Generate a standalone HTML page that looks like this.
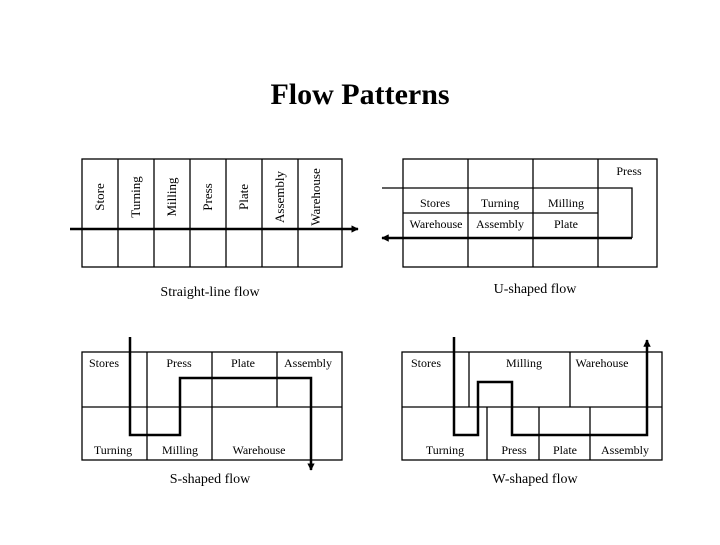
<!DOCTYPE html>
<html><head><meta charset="utf-8"><style>
html,body{margin:0;padding:0;background:#fff;}
svg text{font-family:"Liberation Serif",serif;fill:#000;}
</style></head><body>
<svg width="720" height="540" viewBox="0 0 720 540" xmlns="http://www.w3.org/2000/svg">
<defs>
<marker id="ah" viewBox="0 0 10 10" refX="9" refY="5" markerWidth="3" markerHeight="3" orient="auto"><path d="M0,0 L10,5 L0,10 z" fill="#000"/></marker>
</defs>
<text x="360" y="104" font-size="30" font-weight="bold" text-anchor="middle">Flow Patterns</text>

<!-- Straight-line -->
<g stroke="#000" stroke-width="1.3" fill="none">
<rect x="82" y="159" width="260" height="108"/>
<line x1="118" y1="159" x2="118" y2="267"/><line x1="154" y1="159" x2="154" y2="267"/>
<line x1="190" y1="159" x2="190" y2="267"/><line x1="226" y1="159" x2="226" y2="267"/>
<line x1="262" y1="159" x2="262" y2="267"/><line x1="298" y1="159" x2="298" y2="267"/>
</g>
<line x1="70" y1="229" x2="358" y2="229" stroke="#000" stroke-width="2.5" marker-end="url(#ah)"/>
<g font-size="13" text-anchor="middle">
<text transform="translate(104,197) rotate(-90)">Store</text>
<text transform="translate(140,197) rotate(-90)">Turning</text>
<text transform="translate(176,197) rotate(-90)">Milling</text>
<text transform="translate(212,197) rotate(-90)">Press</text>
<text transform="translate(248,197) rotate(-90)">Plate</text>
<text transform="translate(284,197) rotate(-90)">Assembly</text>
<text transform="translate(320,197) rotate(-90)">Warehouse</text>
</g>
<text x="210" y="296" font-size="14" text-anchor="middle">Straight-line flow</text>

<!-- U-shaped -->
<g stroke="#000" stroke-width="1.3" fill="none">
<rect x="403" y="159" width="254" height="108"/>
<line x1="468" y1="159" x2="468" y2="267"/><line x1="533" y1="159" x2="533" y2="267"/>
<line x1="598" y1="159" x2="598" y2="267"/>
<line x1="403" y1="213" x2="598" y2="213"/>
<polyline points="382,188 632,188 632,238"/>
</g>
<polyline points="632,238 382,238" fill="none" stroke="#000" stroke-width="2.5" marker-end="url(#ah)"/>
<g font-size="12" text-anchor="middle">
<text x="435" y="207">Stores</text><text x="500" y="207">Turning</text><text x="566" y="207">Milling</text>
<text x="436" y="228">Warehouse</text><text x="500" y="228">Assembly</text><text x="566" y="228">Plate</text>
<text x="629" y="175">Press</text>
</g>
<text x="535" y="293" font-size="14" text-anchor="middle">U-shaped flow</text>

<!-- S-shaped -->
<g stroke="#000" stroke-width="1.3" fill="none">
<rect x="82" y="352" width="260" height="108"/>
<line x1="82" y1="407" x2="342" y2="407"/>
<line x1="147" y1="352" x2="147" y2="460"/><line x1="212" y1="352" x2="212" y2="460"/>
<line x1="277" y1="352" x2="277" y2="407"/>
</g>
<polyline points="130,337 130,435 180,435 180,378 311,378 311,470" fill="none" stroke="#000" stroke-width="2.5" marker-end="url(#ah)"/>
<g font-size="12" text-anchor="middle">
<text x="104" y="367">Stores</text><text x="179" y="367">Press</text><text x="243" y="367">Plate</text><text x="308" y="367">Assembly</text>
<text x="113" y="454">Turning</text><text x="180" y="454">Milling</text><text x="259" y="454">Warehouse</text>
</g>
<text x="210" y="483" font-size="14" text-anchor="middle">S-shaped flow</text>

<!-- W-shaped -->
<g stroke="#000" stroke-width="1.3" fill="none">
<rect x="402" y="352" width="260" height="108"/>
<line x1="402" y1="407" x2="662" y2="407"/>
<line x1="469" y1="352" x2="469" y2="407"/><line x1="570" y1="352" x2="570" y2="407"/>
<line x1="487" y1="407" x2="487" y2="460"/><line x1="539" y1="407" x2="539" y2="460"/><line x1="590" y1="407" x2="590" y2="460"/>
</g>
<polyline points="454,337 454,435 478,435 478,382 512,382 512,435 647,435 647,340" fill="none" stroke="#000" stroke-width="2.5" marker-end="url(#ah)"/>
<g font-size="12" text-anchor="middle">
<text x="426" y="367">Stores</text><text x="524" y="367">Milling</text><text x="602" y="367">Warehouse</text>
<text x="445" y="454">Turning</text><text x="514" y="454">Press</text><text x="565" y="454">Plate</text><text x="625" y="454">Assembly</text>
</g>
<text x="535" y="483" font-size="14" text-anchor="middle">W-shaped flow</text>
</svg>
</body></html>
